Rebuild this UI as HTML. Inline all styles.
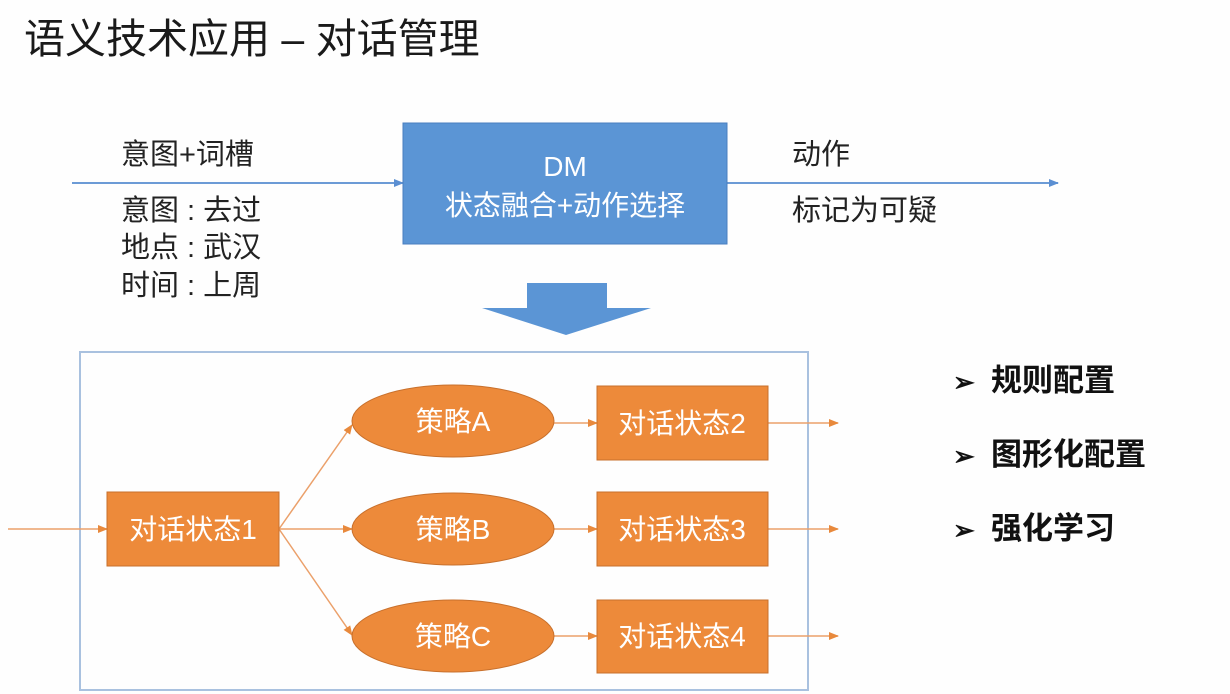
<!DOCTYPE html>
<html><head><meta charset="utf-8">
<style>
html,body{margin:0;padding:0;background:#fff;}
svg{display:block;}
text{font-family:"Liberation Sans","Noto Sans CJK SC",sans-serif;}
</style></head>
<body>
<svg width="1230" height="694" viewBox="0 0 1230 694" xmlns="http://www.w3.org/2000/svg">
<defs>
<marker id="ba" markerWidth="10" markerHeight="10" refX="9" refY="5" orient="auto" markerUnits="userSpaceOnUse"><path d="M0,1 L10,5 L0,9 z" fill="#5b8fd2"/></marker>
<marker id="oa" markerWidth="10" markerHeight="10" refX="9" refY="5" orient="auto" markerUnits="userSpaceOnUse"><path d="M0,1 L10,5 L0,9 z" fill="#e8893c"/></marker>
</defs>
<rect width="1230" height="694" fill="#fefefe"/>
<text x="24" y="53" font-size="41" fill="#1a1a1a">语义技术应用 – 对话管理</text>

<line x1="72" y1="183" x2="403" y2="183" stroke="#6c9bd6" stroke-width="2" marker-end="url(#ba)"/>
<line x1="727" y1="183" x2="1058" y2="183" stroke="#6c9bd6" stroke-width="2" marker-end="url(#ba)"/>
<rect x="403" y="123" width="324" height="121" fill="#5b95d5" stroke="#4a7fc0" stroke-width="1"/>
<text x="565" y="176" font-size="28" fill="#fff" text-anchor="middle">DM</text>
<text x="565" y="215" font-size="28" fill="#fff" text-anchor="middle">状态融合+动作选择</text>
<g font-size="29" fill="#222">
<text x="121" y="164">意图+词槽</text>
<text x="121" y="220">意图 : 去过</text>
<text x="121" y="257">地点 : 武汉</text>
<text x="121" y="295">时间 : 上周</text>
<text x="792" y="164">动作</text>
<text x="792" y="220">标记为可疑</text>
</g>
<path d="M527,283 L607,283 L607,308 L651,308 L566,335 L482,308 L527,308 z" fill="#5b95d5"/>

<rect x="80" y="352" width="728" height="338" fill="none" stroke="#a9c1df" stroke-width="2"/>
<g stroke="#eba06a" stroke-width="1.5" fill="none">
<line x1="8" y1="529" x2="107" y2="529" marker-end="url(#oa)"/>
<line x1="279" y1="529" x2="352" y2="425" marker-end="url(#oa)"/>
<line x1="279" y1="529" x2="352" y2="529" marker-end="url(#oa)"/>
<line x1="279" y1="529" x2="352" y2="635" marker-end="url(#oa)"/>
<line x1="554" y1="423" x2="597" y2="423" marker-end="url(#oa)"/>
<line x1="554" y1="529" x2="597" y2="529" marker-end="url(#oa)"/>
<line x1="554" y1="636" x2="597" y2="636" marker-end="url(#oa)"/>
<line x1="768" y1="423" x2="838" y2="423" marker-end="url(#oa)"/>
<line x1="768" y1="529" x2="838" y2="529" marker-end="url(#oa)"/>
<line x1="768" y1="636" x2="838" y2="636" marker-end="url(#oa)"/>
</g>
<g fill="#ed8a3a" stroke="#c8702c" stroke-width="1">
<rect x="107" y="492" width="172" height="74"/>
<rect x="597" y="386" width="171" height="74"/>
<rect x="597" y="492" width="171" height="74"/>
<rect x="597" y="600" width="171" height="73"/>
<ellipse cx="453" cy="421" rx="101" ry="36"/>
<ellipse cx="453" cy="529" rx="101" ry="36"/>
<ellipse cx="453" cy="636" rx="101" ry="36"/>
</g>
<g font-size="28" fill="#fff" text-anchor="middle">
<text x="193" y="539">对话状态1</text>
<text x="682" y="433">对话状态2</text>
<text x="682" y="539">对话状态3</text>
<text x="682" y="646">对话状态4</text>
<text x="453" y="431">策略A</text>
<text x="453" y="539">策略B</text>
<text x="453" y="646">策略C</text>
</g>

<g font-size="31" font-weight="bold" fill="#111">
<text x="953" y="391" font-size="26">➢</text>
<text x="991" y="391">规则配置</text>
<text x="953" y="465" font-size="26">➢</text>
<text x="991" y="465">图形化配置</text>
<text x="953" y="539" font-size="26">➢</text>
<text x="991" y="539">强化学习</text>
</g>
</svg>
</body></html>
